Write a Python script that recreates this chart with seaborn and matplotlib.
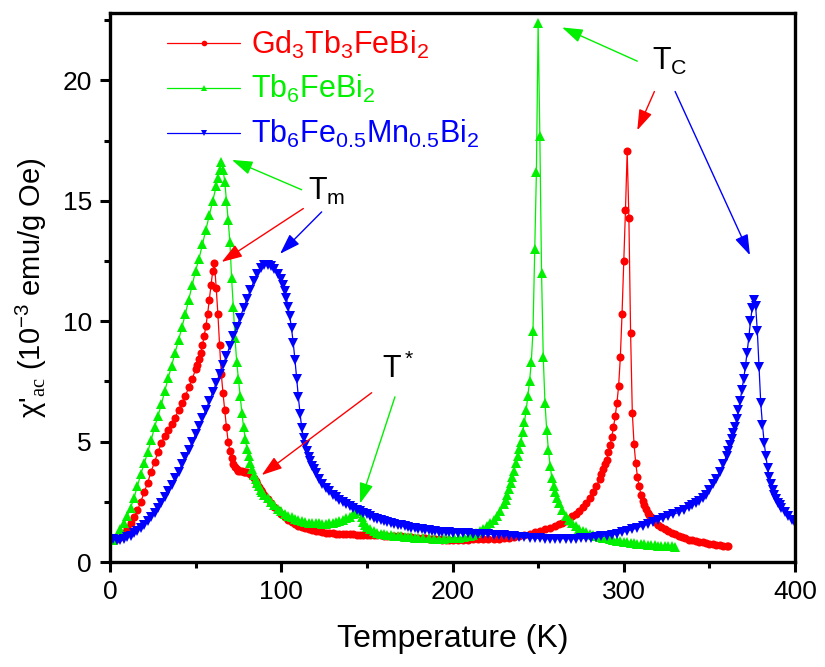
import numpy as np
import pandas as pd
import matplotlib
matplotlib.use("Agg")
import matplotlib.pyplot as plt
from matplotlib.ticker import MultipleLocator
import seaborn as sns

# ---------------- data : (T [K], chi' [1e-3 emu/g Oe]) ----------------
red_data = [
    (2, 0.90), (4, 0.95), (6, 1.05), (8, 1.20), (10, 1.40), (12, 1.60), (14, 1.85), (16, 2.15), (18, 2.50), (20, 2.90),
    (22, 3.30), (24, 3.75), (26, 4.15), (28, 4.55), (30, 4.95), (32, 5.25), (34, 5.50), (36, 5.75), (38, 6.00), (40, 6.30),
    (42, 6.60), (44, 6.90), (46, 7.25), (48, 7.60), (50, 8.00), (51, 8.20), (52, 8.45), (53, 8.70), (54, 9.00), (55, 9.40),
    (56, 9.80), (57, 10.30), (58, 10.90), (59, 11.50), (60, 12.10), (61, 12.40), (62, 11.40), (63, 10.30), (64, 9.00), (65, 7.80),
    (66, 7.00), (67, 6.30), (68, 5.60), (69, 5.00), (70, 4.60), (71, 4.30), (72, 4.05), (73, 3.95), (74, 3.85), (75, 3.80),
    (76, 3.78), (77, 3.76), (78, 3.75), (79, 3.74), (80, 3.72), (81, 3.70), (82, 3.65), (83, 3.58), (84, 3.50), (85, 3.38),
    (86, 3.25), (87, 3.12), (88, 3.00), (89, 2.90), (90, 2.80), (92, 2.60), (94, 2.45), (96, 2.30), (98, 2.15), (100, 2.00),
    (102, 1.87), (104, 1.75), (106, 1.65), (108, 1.58), (110, 1.50), (112, 1.45), (114, 1.40), (116, 1.36), (118, 1.32), (120, 1.29),
    (122, 1.27), (124, 1.24), (126, 1.22), (128, 1.20), (130, 1.19), (132, 1.18), (134, 1.17), (136, 1.16), (138, 1.16), (140, 1.15),
    (142, 1.15), (144, 1.14), (146, 1.14), (148, 1.13), (150, 1.13), (152, 1.13), (154, 1.12), (156, 1.12), (158, 1.11), (160, 1.10),
    (162, 1.09), (164, 1.08), (166, 1.08), (168, 1.07), (170, 1.06), (172, 1.05), (174, 1.04), (176, 1.03), (178, 1.01), (180, 1.00),
    (182, 0.99), (184, 0.98), (186, 0.97), (188, 0.96), (190, 0.95), (192, 0.94), (194, 0.93), (196, 0.93), (198, 0.92), (200, 0.92),
    (203, 0.92), (206, 0.92), (209, 0.93), (212, 0.94), (215, 0.95), (218, 0.95), (221, 0.96), (224, 0.96), (227, 0.97), (230, 0.98),
    (233, 1.01), (236, 1.04), (239, 1.08), (242, 1.13), (245, 1.18), (248, 1.23), (251, 1.29), (254, 1.36), (257, 1.43), (260, 1.50),
    (262, 1.56), (264, 1.62), (266, 1.70), (268, 1.80), (270, 1.90), (272, 2.00), (274, 2.13), (276, 2.28), (278, 2.45), (280, 2.65),
    (282, 2.90), (284, 3.15), (286, 3.45), (287, 3.65), (288, 3.85), (289, 4.05), (290, 4.25), (291, 4.55), (292, 4.85), (293, 5.20),
    (294, 5.60), (295, 6.05), (296, 6.60), (297, 7.30), (298, 8.50), (299, 10.30), (300, 12.50), (301, 14.60), (302, 17.05), (303, 14.30),
    (304, 9.50), (305, 6.20), (306, 4.90), (307, 4.10), (308, 3.55), (309, 3.15), (310, 2.80), (311, 2.55), (312, 2.35), (313, 2.20),
    (314, 2.05), (315, 1.95), (316, 1.85), (318, 1.68), (320, 1.55), (322, 1.45), (324, 1.36), (326, 1.28), (328, 1.21), (330, 1.15),
    (332, 1.08), (334, 1.03), (336, 0.98), (338, 0.93), (340, 0.90), (342, 0.87), (344, 0.84), (346, 0.81), (348, 0.78), (350, 0.75),
    (352, 0.73), (354, 0.72), (356, 0.70), (358, 0.68), (360, 0.66), (361, 0.65),
]

green_data = [
    (2, 0.90), (4, 1.10), (6, 1.35), (8, 1.60), (10, 1.90), (12, 2.25), (14, 2.65), (16, 3.15), (18, 3.65), (20, 4.10),
    (22, 4.55), (24, 5.05), (26, 5.60), (28, 6.05), (30, 6.55), (32, 7.10), (34, 7.65), (36, 8.15), (38, 8.70), (40, 9.20),
    (42, 9.75), (44, 10.30), (46, 10.90), (48, 11.50), (50, 12.10), (52, 12.60), (54, 13.20), (56, 13.80), (58, 14.40), (60, 15.00),
    (62, 15.60), (63, 15.95), (64, 16.30), (65, 16.60), (66, 16.30), (67, 15.80), (68, 15.00), (69, 14.20), (70, 13.30), (71, 11.80),
    (72, 10.60), (73, 9.30), (74, 8.30), (75, 7.60), (76, 6.90), (77, 6.20), (78, 5.60), (79, 5.10), (80, 4.70), (81, 4.40),
    (82, 4.10), (83, 3.85), (84, 3.60), (85, 3.45), (86, 3.30), (87, 3.15), (88, 3.00), (89, 2.90), (90, 2.80), (92, 2.65),
    (94, 2.50), (96, 2.35), (98, 2.20), (100, 2.10), (102, 2.00), (104, 1.92), (106, 1.85), (108, 1.78), (110, 1.73), (112, 1.70),
    (114, 1.66), (116, 1.64), (118, 1.62), (120, 1.61), (122, 1.60), (124, 1.58), (126, 1.59), (128, 1.61), (130, 1.63), (132, 1.66),
    (134, 1.70), (136, 1.75), (138, 1.81), (140, 1.88), (142, 1.98), (143, 2.04), (144, 2.10), (145, 2.15), (146, 2.10), (147, 1.85),
    (148, 1.65), (149, 1.53), (150, 1.45), (152, 1.35), (154, 1.28), (156, 1.22), (158, 1.18), (160, 1.15), (162, 1.13), (164, 1.11),
    (166, 1.09), (168, 1.08), (170, 1.06), (172, 1.05), (174, 1.04), (176, 1.03), (178, 1.01), (180, 1.00), (183, 0.99), (186, 0.98),
    (189, 0.97), (192, 0.97), (195, 0.97), (198, 0.98), (201, 0.99), (204, 1.01), (207, 1.04), (210, 1.08), (212, 1.13), (214, 1.20),
    (216, 1.28), (218, 1.37), (220, 1.48), (222, 1.60), (224, 1.75), (226, 1.92), (228, 2.12), (230, 2.40), (231, 2.58), (232, 2.80),
    (233, 3.05), (234, 3.30), (235, 3.55), (236, 3.80), (237, 4.10), (238, 4.40), (239, 4.70), (240, 5.00), (241, 5.40), (242, 5.80),
    (243, 6.30), (244, 6.90), (245, 7.50), (246, 8.30), (247, 9.60), (248, 13.00), (249, 16.20), (250, 22.40), (251, 17.70), (252, 12.00),
    (253, 8.50), (254, 6.60), (255, 5.50), (256, 4.65), (257, 4.00), (258, 3.50), (259, 3.15), (260, 2.90), (261, 2.65), (262, 2.45),
    (264, 2.15), (266, 1.92), (268, 1.75), (270, 1.60), (272, 1.48), (274, 1.38), (276, 1.30), (278, 1.24), (280, 1.18), (282, 1.13),
    (284, 1.09), (286, 1.05), (288, 1.01), (290, 0.98), (292, 0.95), (294, 0.92), (296, 0.89), (298, 0.86), (300, 0.84), (302, 0.82),
    (304, 0.80), (306, 0.78), (308, 0.76), (310, 0.75), (312, 0.73), (314, 0.72), (316, 0.71), (318, 0.69), (320, 0.68), (322, 0.67),
    (324, 0.66), (326, 0.65), (328, 0.65), (330, 0.64),
]

blue_data = [
    (2, 0.95), (4, 0.92), (6, 0.93), (8, 0.97), (10, 1.03), (12, 1.10), (14, 1.20), (16, 1.30), (18, 1.42), (20, 1.55),
    (22, 1.70), (24, 1.87), (26, 2.05), (28, 2.25), (30, 2.47), (32, 2.70), (34, 2.95), (36, 3.20), (38, 3.47), (40, 3.75),
    (42, 4.05), (44, 4.35), (46, 4.66), (48, 4.98), (50, 5.30), (52, 5.63), (54, 5.97), (56, 6.32), (58, 6.68), (60, 7.05),
    (62, 7.42), (64, 7.80), (66, 8.18), (68, 8.57), (70, 8.97), (72, 9.37), (74, 9.77), (76, 10.15), (78, 10.55), (80, 10.93),
    (82, 11.30), (84, 11.65), (86, 11.95), (88, 12.20), (90, 12.33), (92, 12.35), (94, 12.30), (96, 12.15), (98, 11.95), (100, 11.75),
    (101, 11.50), (102, 11.25), (103, 10.95), (104, 10.60), (105, 10.20), (106, 9.70), (107, 9.10), (108, 8.40), (109, 7.60), (110, 6.85),
    (111, 6.15), (112, 5.55), (113, 5.15), (114, 4.85), (115, 4.60), (116, 4.38), (117, 4.18), (118, 4.00), (119, 3.85), (120, 3.70),
    (122, 3.45), (124, 3.25), (126, 3.08), (128, 2.93), (130, 2.80), (132, 2.68), (134, 2.57), (136, 2.48), (138, 2.40), (140, 2.32),
    (142, 2.25), (144, 2.18), (146, 2.12), (148, 2.05), (150, 1.98), (152, 1.90), (154, 1.84), (156, 1.78), (158, 1.73), (160, 1.69),
    (162, 1.65), (164, 1.62), (166, 1.58), (168, 1.55), (170, 1.52), (172, 1.49), (174, 1.46), (176, 1.43), (178, 1.40), (180, 1.38),
    (182, 1.36), (184, 1.34), (186, 1.32), (188, 1.30), (190, 1.28), (192, 1.26), (194, 1.25), (196, 1.24), (198, 1.23), (200, 1.22),
    (203, 1.21), (206, 1.20), (209, 1.19), (212, 1.18), (215, 1.17), (218, 1.16), (221, 1.15), (224, 1.14), (227, 1.13), (230, 1.12),
    (233, 1.10), (236, 1.07), (239, 1.04), (242, 1.02), (245, 1.00), (248, 0.99), (251, 0.98), (254, 0.97), (257, 0.97), (260, 0.97),
    (263, 0.97), (266, 0.97), (269, 0.97), (272, 0.97), (275, 0.98), (278, 0.99), (281, 1.01), (284, 1.03), (287, 1.06), (290, 1.09),
    (293, 1.13), (296, 1.18), (299, 1.23), (302, 1.29), (305, 1.35), (308, 1.42), (311, 1.50), (314, 1.58), (317, 1.66), (320, 1.74),
    (323, 1.82), (326, 1.90), (329, 1.98), (332, 2.06), (335, 2.16), (338, 2.27), (340, 2.35), (342, 2.45), (344, 2.55), (346, 2.67),
    (348, 2.80), (350, 3.00), (352, 3.22), (354, 3.45), (356, 3.75), (358, 4.05), (360, 4.40), (361, 4.60), (362, 4.85), (363, 5.10),
    (364, 5.35), (365, 5.60), (366, 5.95), (367, 6.30), (368, 6.70), (369, 7.15), (370, 7.60), (371, 8.10), (372, 8.70), (373, 9.30),
    (374, 10.00), (375, 10.55), (376, 10.90), (377, 10.65), (378, 9.60), (379, 8.10), (380, 6.60), (381, 5.70), (382, 4.95), (383, 4.40),
    (384, 3.90), (385, 3.55), (386, 3.25), (387, 3.00), (388, 2.80), (389, 2.60), (390, 2.45), (391, 2.35), (392, 2.25), (394, 2.07),
    (396, 1.90), (398, 1.75), (400, 1.60),
]

labels = [r"Gd$_3$Tb$_3$FeBi$_2$", r"Tb$_6$FeBi$_2$", r"Tb$_6$Fe$_{0.5}$Mn$_{0.5}$Bi$_2$"]
colors = ["#FF0000", "#00F000", "#0000FF"]
markers = ["o", "^", "v"]
marker_sizes = [5.8, 7.0, 7.0]

x_ticks = [0, 100, 200, 300, 400]
y_ticks = [0, 5, 10, 15, 20]

# ---------------- styling ----------------
sns.set_style("ticks")
plt.rcParams["font.family"] = ["Liberation Sans", "DejaVu Sans"]
plt.rcParams["mathtext.fontset"] = "custom"
plt.rcParams["mathtext.rm"] = "Liberation Sans"
plt.rcParams["mathtext.it"] = "Liberation Sans:italic"
plt.rcParams["mathtext.sf"] = "Liberation Serif"
for key in ["text.color", "axes.labelcolor", "xtick.color", "ytick.color", "axes.edgecolor"]:
    plt.rcParams[key] = "black"

fig = plt.figure(figsize=(8.25, 6.67), dpi=100)
ax = fig.add_axes([110 / 825, 1 - 562 / 667, 685 / 825, 549 / 667])

for data, lab, c, m, ms in zip([red_data, green_data, blue_data], labels, colors, markers, marker_sizes):
    df = pd.DataFrame(data, columns=["T", "chi"])
    sns.lineplot(data=df, x="T", y="chi", ax=ax, color=c, marker=m, markersize=ms,
                 markeredgewidth=0, linewidth=0.9, estimator=None, sort=False, label=lab)

ax.set_xlim(0, 400)
ax.set_ylim(0, 22.8)
ax.set_xticks(x_ticks)
ax.set_yticks(y_ticks)
ax.xaxis.set_minor_locator(MultipleLocator(50))
ax.yaxis.set_minor_locator(MultipleLocator(2.5))
ax.tick_params(which="major", direction="out", length=7, width=2.2, labelsize=19, pad=6)
ax.tick_params(which="minor", direction="out", length=4, width=2.2)
ax.tick_params(top=False, right=False, which="both")
for sp in ax.spines.values():
    sp.set_linewidth(2.4)
    sp.set_color("black")
    sp.set_visible(True)

ax.set_xlabel("Temperature (K)", fontsize=23, labelpad=14)
ax.set_ylabel(r"χ'$_{\mathsf{ac}}$ (10$^{-3}$ emu/g Oe)", fontsize=21, labelpad=10)

leg = ax.legend(loc="upper left", bbox_to_anchor=(0.043, 1.022), frameon=False, fontsize=22,
                handlelength=2.4, handletextpad=0.35, labelspacing=0.42, markerscale=0.7)
for txt, c in zip(leg.get_texts(), colors):
    txt.set_color(c)

# ---------------- annotations ----------------
ax.text(327, 20.8, r"T$_\mathrm{C}$", fontsize=22, ha="center", va="center")
ax.text(126.7, 15.4, r"T$_\mathrm{m}$", fontsize=22, ha="center", va="center")
ax.text(168, 8.0, r"T$^*$", fontsize=22, ha="center", va="center")

arrows = [
    ((307.9, 20.8), (264.0, 22.2), colors[1]),
    ((317.9, 19.54), (307.9, 17.93), colors[0]),
    ((330.0, 19.54), (373.7, 12.74), colors[2]),
    ((111.9, 15.46), (71.2, 16.7), colors[1]),
    ((112.9, 14.68), (65.2, 12.46), colors[0]),
    ((123.6, 14.54), (99.3, 12.8), colors[2]),
    ((152.8, 7.03), (88.6, 3.61), colors[0]),
    ((166.4, 6.86), (146.0, 2.43), colors[1]),
]
for tail, head, c in arrows:
    ax.annotate("", xy=head, xytext=tail,
                arrowprops=dict(arrowstyle="-|>,head_length=0.9,head_width=0.3",
                                color=c, lw=1.0, mutation_scale=14,
                                shrinkA=0, shrinkB=0))

fig.savefig("out.png", dpi=100)
